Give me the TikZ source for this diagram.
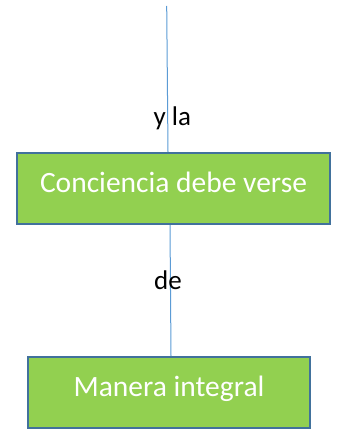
\documentclass[tikz,border=0pt]{standalone}
\usepackage{fontspec}
\setmainfont{Carlito}
\definecolor{boxfill}{HTML}{92D050}
\definecolor{boxline}{HTML}{41719C}
\definecolor{conn}{HTML}{5B9BD5}
\begin{document}
\begin{tikzpicture}[x=1pt,y=-1pt,
  concept/.style={draw=boxline,line width=2pt,fill=boxfill,text=white,font=\fontsize{29.5}{32}\selectfont,inner sep=0pt,text height=19pt,text depth=11pt},
  conn/.style={draw=conn,line width=1pt},
  lbl/.style={font=\fontsize{27}{30}\selectfont,text=black,inner sep=0pt,anchor=base west}]
\useasboundingbox (0,0) rectangle (338,433);
\coordinate (top) at (166.7,6);
\node[concept,minimum width=313pt,minimum height=71pt] (a) at (173.5,188.5) {Conciencia debe verse};
\node[concept,minimum width=282pt,minimum height=71pt] (b) at (169,392.5) {Manera integral};
\draw[conn] (top) -- (a.north -| 168,0);
\draw[conn] (a.south -| 170,0) -- (b.north -| 171,0);
\node[lbl] (l1) at (153.3,125.7) {y la};
\node[lbl] (l2) at (154,289.3) {de};
\end{tikzpicture}
\end{document}
